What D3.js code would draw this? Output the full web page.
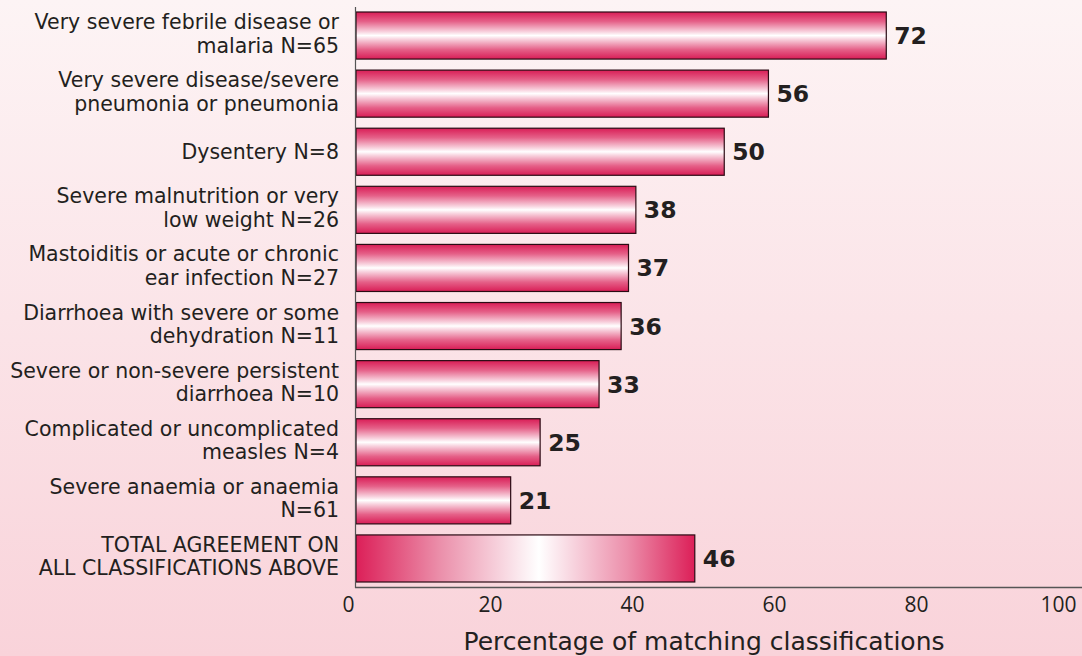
<!DOCTYPE html>
<html>
<head>
<meta charset="utf-8">
<script src="https://cdn.jsdelivr.net/npm/d3@7"></script>
<style>
html,body{margin:0;padding:0;}
body{width:1082px;height:656px;overflow:hidden;}
</style>
</head>
<body>
<svg id="chart" width="1082" height="656"></svg>
<script>
// ---- data ----
const categories = [
  ["Very severe febrile disease or", "malaria N=65"],
  ["Very severe disease/severe", "pneumonia or pneumonia"],
  ["Dysentery N=8"],
  ["Severe malnutrition or very", "low weight N=26"],
  ["Mastoiditis or acute or chronic", "ear infection N=27"],
  ["Diarrhoea with severe or some", "dehydration N=11"],
  ["Severe or non-severe persistent", "diarrhoea N=10"],
  ["Complicated or uncomplicated", "measles N=4"],
  ["Severe anaemia or anaemia", "N=61"],
  ["TOTAL AGREEMENT ON", "ALL CLASSIFICATIONS ABOVE"]
];
const values = [72, 56, 50, 38, 37, 36, 33, 25, 21, 46];
const tickValues = [0, 20, 40, 60, 80, 100];
const xTitle = "Percentage of matching classifications";

// ---- drawing ----
const svg = d3.select("#chart");
const W = 1082, H = 656;
const defs = svg.append("defs");

const bg = defs.append("linearGradient").attr("id","bg").attr("x1",0).attr("y1",0).attr("x2",0).attr("y2",1);
bg.append("stop").attr("offset","0%").attr("stop-color","#fdf4f5");
bg.append("stop").attr("offset","100%").attr("stop-color","#f9d3da");

const vg = defs.append("linearGradient").attr("id","barV").attr("x1",0).attr("y1",0).attr("x2",0).attr("y2",1);
[[0,"#d91d56"],[0.2,"#e56088"],[0.42,"#f8d2de"],[0.5,"#ffffff"],[0.58,"#f8d2de"],[0.8,"#e56088"],[1,"#d91d56"]]
  .forEach(s => vg.append("stop").attr("offset", s[0]).attr("stop-color", s[1]));

const hg = defs.append("linearGradient").attr("id","barH").attr("x1",0).attr("y1",0).attr("x2",1).attr("y2",0);
[[0,"#dc1f58"],[0.25,"#eb90ab"],[0.54,"#ffffff"],[0.8,"#ec8fab"],[1,"#dc1f58"]]
  .forEach(s => hg.append("stop").attr("offset", s[0]).attr("stop-color", s[1]));

svg.append("rect").attr("width",W).attr("height",H).attr("fill","url(#bg)");

const idx = d3.range(values.length);
// bar scale (as drawn in the original)
const x = d3.scaleLinear().domain([0,100]).range([356, 1092.5]);
// axis tick scale (the original's printed tick positions)
const xAxisScale = d3.scaleLinear().domain([0,100]).range([348, 1058]);
const y = d3.scaleBand().domain(idx).range([12, 582]).paddingInner(0.19).paddingOuter(0);

const fontLab = "'DejaVu Sans', 'Open Sans', sans-serif";
const fontMain = "'Open Sans', 'DejaVu Sans', sans-serif";

// bars
svg.append("g").selectAll("rect").data(idx).join("rect")
  .attr("x", x(0))
  .attr("y", i => y(i))
  .attr("width", i => x(values[i]) - x(0))
  .attr("height", y.bandwidth())
  .attr("fill", i => i === values.length - 1 ? "url(#barH)" : "url(#barV)")
  .attr("stroke", "#2b0b14")
  .attr("stroke-width", 1.2);

// value labels
svg.append("g").selectAll("text").data(idx).join("text")
  .attr("x", i => x(values[i]) + 8)
  .attr("y", i => y(i) + y.bandwidth()/2 + 8.5)
  .attr("font-family", "'DejaVu Sans', sans-serif")
  .attr("font-weight", 700)
  .attr("font-size", 23.5)
  .attr("fill", "#231f20")
  .text(i => values[i]);

// category labels
const lab = svg.append("g").selectAll("text").data(idx).join("text")
  .attr("text-anchor", "end")
  .attr("font-family", fontLab)
  .attr("font-size", 20.5)
  .attr("fill", "#231f20");
lab.each(function(i){
  const t = d3.select(this);
  const lines = categories[i];
  const cy = y(i) + y.bandwidth()/2;
  if (lines.length === 1) {
    t.append("tspan").attr("x", 339).attr("y", cy + 7).text(lines[0]);
  } else {
    t.append("tspan").attr("x", 339).attr("y", cy - 6.5).text(lines[0]);
    t.append("tspan").attr("x", 339).attr("y", cy + 17).text(lines[1]);
  }
});

// y axis line
svg.append("line").attr("x1",355.5).attr("x2",355.5).attr("y1",7).attr("y2",588)
  .attr("stroke","#555").attr("stroke-width",1.2);

// x axis
const axisG = svg.append("g").attr("transform","translate(0,587.5)");
axisG.append("line").attr("x1",355).attr("x2",1082).attr("y1",0).attr("y2",0)
  .attr("stroke","#555").attr("stroke-width",1.4);
const ax = d3.axisBottom(xAxisScale).tickValues(tickValues).tickSize(0).tickPadding(10).tickFormat(d3.format("d"));
const axG2 = axisG.append("g").call(ax);
axG2.select(".domain").remove();
axG2.selectAll("text").attr("font-family", fontMain).attr("font-size", 21).attr("fill","#231f20");

svg.append("text").attr("x", 704).attr("y", 650).attr("text-anchor","middle")
  .attr("font-family", fontLab).attr("font-size", 25).attr("fill","#231f20")
  .text(xTitle);
</script>
</body>
</html>
